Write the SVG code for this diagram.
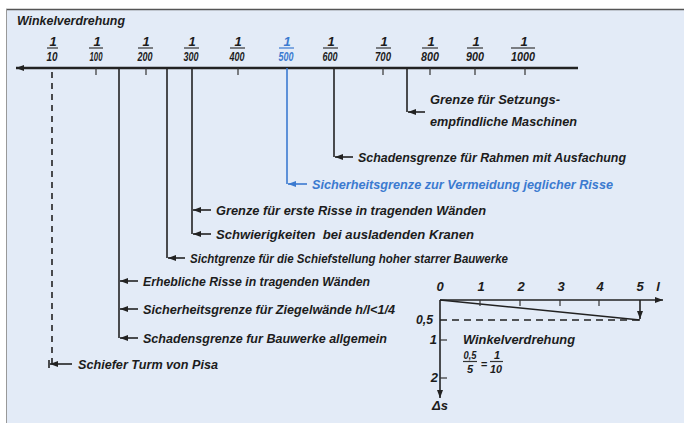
<svg xmlns="http://www.w3.org/2000/svg" width="684" height="423" viewBox="0 0 684 423">
<defs>
<style>
text{font-family:"Liberation Sans","DejaVu Sans",sans-serif;font-style:italic;font-weight:bold;font-size:13px;fill:#1c1c1c}
.b{fill:#3b7ad0}
.ln{stroke:#222;stroke-width:1.6;fill:none}
.bl{stroke:#3b7ad0;stroke-width:1.6;fill:none}
.tk{stroke:#333;stroke-width:1.2}
.num{font-size:13px}
.fr{font-size:11px}
</style>
<marker id="ah" viewBox="0 0 8 6" refX="8" refY="3" markerWidth="8" markerHeight="6" markerUnits="userSpaceOnUse" orient="auto"><path d="M0,0L8,3L0,6z" fill="#222"/></marker>
<marker id="ahb" viewBox="0 0 8 6" refX="8" refY="3" markerWidth="8" markerHeight="6" markerUnits="userSpaceOnUse" orient="auto"><path d="M0,0L8,3L0,6z" fill="#3b7ad0"/></marker>
</defs>
<rect x="0" y="0" width="684" height="423" fill="#ffffff"/>
<rect x="6" y="9" width="678" height="414" fill="#e3ebf7"/>
<line x1="6" y1="9.5" x2="684" y2="9.5" stroke="#555" stroke-width="1.5"/>
<line x1="6.5" y1="9" x2="6.5" y2="423" stroke="#999" stroke-width="1"/>

<text x="17" y="25" textLength="108" lengthAdjust="spacingAndGlyphs">Winkelverdrehung</text>

<g id="axis">
<line x1="578" y1="68" x2="16" y2="68" stroke="#222" stroke-width="2.5" marker-end="url(#ah)"/>
</g>

<g id="ticks">
<g id="t10"><text class="num" x="53" y="46" text-anchor="middle">1</text><line class="tk" x1="47" y1="48" x2="58" y2="48"/><text class="num" x="52" y="61" text-anchor="middle" textLength="11" lengthAdjust="spacingAndGlyphs">10</text></g>
<g id="t100"><text class="num" x="97" y="46" text-anchor="middle">1</text><line class="tk" x1="89" y1="48" x2="103" y2="48"/><line class="tk" x1="96" y1="68" x2="96" y2="75"/><text class="num" x="96" y="61" text-anchor="middle" textLength="13" lengthAdjust="spacingAndGlyphs">100</text></g>
<g id="t200"><text class="num" x="146" y="46" text-anchor="middle">1</text><line class="tk" x1="138" y1="48" x2="153" y2="48"/><line class="tk" x1="146" y1="68" x2="146" y2="75"/><text class="num" x="145" y="61" text-anchor="middle" textLength="15" lengthAdjust="spacingAndGlyphs">200</text></g>
<g id="t300"><text class="num" x="192" y="46" text-anchor="middle">1</text><line class="tk" x1="184" y1="48" x2="199" y2="48"/><text class="num" x="191" y="61" text-anchor="middle" textLength="15" lengthAdjust="spacingAndGlyphs">300</text></g>
<g id="t400"><text class="num" x="238" y="46" text-anchor="middle">1</text><line class="tk" x1="230" y1="48" x2="245" y2="48"/><line class="tk" x1="238" y1="68" x2="238" y2="75"/><text class="num" x="237" y="61" text-anchor="middle" textLength="15" lengthAdjust="spacingAndGlyphs">400</text></g>
<g id="t500"><text class="num b" x="287" y="46" text-anchor="middle">1</text><line x1="279" y1="48" x2="294" y2="48" stroke="#3b7ad0" stroke-width="1.2"/><text class="num b" x="286" y="61" text-anchor="middle" textLength="15" lengthAdjust="spacingAndGlyphs">500</text></g>
<g id="t600"><text class="num" x="331" y="46" text-anchor="middle">1</text><line class="tk" x1="323" y1="48" x2="338" y2="48"/><text class="num" x="330" y="61" text-anchor="middle" textLength="15" lengthAdjust="spacingAndGlyphs">600</text></g>
<g id="t700"><text class="num" x="384" y="46" text-anchor="middle">1</text><line class="tk" x1="376" y1="48" x2="391" y2="48"/><line class="tk" x1="383" y1="68" x2="383" y2="75"/><text class="num" x="383" y="61" text-anchor="middle" textLength="16" lengthAdjust="spacingAndGlyphs">700</text></g>
<g id="t800"><text class="num" x="431" y="46" text-anchor="middle">1</text><line class="tk" x1="422" y1="48" x2="438" y2="48"/><line class="tk" x1="430" y1="68" x2="430" y2="75"/><text class="num" x="430" y="61" text-anchor="middle" textLength="18" lengthAdjust="spacingAndGlyphs">800</text></g>
<g id="t900"><text class="num" x="476" y="46" text-anchor="middle">1</text><line class="tk" x1="467" y1="48" x2="483" y2="48"/><line class="tk" x1="475" y1="68" x2="475" y2="75"/><text class="num" x="475" y="61" text-anchor="middle" textLength="18" lengthAdjust="spacingAndGlyphs">900</text></g>
<g id="t1000"><text class="num" x="524" y="46" text-anchor="middle">1</text><line class="tk" x1="511" y1="48" x2="535" y2="48"/><line class="tk" x1="525" y1="68" x2="525" y2="75"/><text class="num" x="523" y="61" text-anchor="middle" textLength="24" lengthAdjust="spacingAndGlyphs">1000</text></g>
</g>

<g id="connectors">
<line x1="52" y1="72" x2="52" y2="364" stroke="#222" stroke-width="1.6" stroke-dasharray="6 5"/>
<line x1="49" y1="360" x2="49" y2="368" stroke="#222" stroke-width="1.6"/>
<line class="ln" x1="119" y1="68" x2="119" y2="338"/>
<line class="ln" x1="167" y1="68" x2="167" y2="258"/>
<line class="ln" x1="192" y1="68" x2="192" y2="234"/>
<line class="bl" x1="287" y1="68" x2="287" y2="184"/>
<line class="ln" x1="334" y1="68" x2="334" y2="157"/>
<line class="ln" x1="407" y1="68" x2="407" y2="112"/>
<line class="ln" x1="425" y1="112" x2="408" y2="112" marker-end="url(#ah)"/>
<line class="ln" x1="353" y1="157" x2="335" y2="157" marker-end="url(#ah)"/>
<line class="bl" x1="307" y1="184" x2="288" y2="184" marker-end="url(#ahb)"/>
<line class="ln" x1="211" y1="210" x2="193" y2="210" marker-end="url(#ah)"/>
<line class="ln" x1="211" y1="234" x2="193" y2="234" marker-end="url(#ah)"/>
<line class="ln" x1="185" y1="258" x2="168" y2="258" marker-end="url(#ah)"/>
<line class="ln" x1="138" y1="281" x2="120" y2="281" marker-end="url(#ah)"/>
<line class="ln" x1="138" y1="309" x2="120" y2="309" marker-end="url(#ah)"/>
<line class="ln" x1="138" y1="338" x2="120" y2="338" marker-end="url(#ah)"/>
<line class="ln" x1="72" y1="364" x2="50" y2="364" marker-end="url(#ah)"/>
</g>

<g id="n-setzung"><text x="430" y="104" textLength="130" lengthAdjust="spacingAndGlyphs">Grenze für Setzungs-</text><text x="430" y="126" textLength="147" lengthAdjust="spacingAndGlyphs">empfindliche Maschinen</text></g>
<g id="n-rahmen"><text x="358" y="161.5" textLength="268" lengthAdjust="spacingAndGlyphs">Schadensgrenze für Rahmen mit Ausfachung</text></g>
<g id="n-sicher"><text class="b" x="312" y="188.5" textLength="301" lengthAdjust="spacingAndGlyphs">Sicherheitsgrenze zur Vermeidung jeglicher Risse</text></g>
<g id="n-erste"><text x="216" y="214.5" textLength="270" lengthAdjust="spacingAndGlyphs">Grenze für erste Risse in tragenden Wänden</text></g>
<g id="n-kranen"><text x="216" y="238.5" textLength="258" lengthAdjust="spacingAndGlyphs" xml:space="preserve">Schwierigkeiten  bei ausladenden Kranen</text></g>
<g id="n-sicht"><text x="190" y="262.5" textLength="318" lengthAdjust="spacingAndGlyphs">Sichtgrenze für die Schiefstellung hoher starrer Bauwerke</text></g>
<g id="n-erheblich"><text x="143" y="285.5" textLength="227" lengthAdjust="spacingAndGlyphs">Erhebliche Risse in tragenden Wänden</text></g>
<g id="n-ziegel"><text x="143" y="313.5" textLength="252" lengthAdjust="spacingAndGlyphs">Sicherheitsgrenze für Ziegelwände h/l&lt;1/4</text></g>
<g id="n-bauwerke"><text x="143" y="342.5" textLength="244" lengthAdjust="spacingAndGlyphs">Schadensgrenze fur Bauwerke allgemein</text></g>
<g id="n-pisa"><text x="78" y="368.5" textLength="140" lengthAdjust="spacingAndGlyphs">Schiefer Turm von Pisa</text></g>

<g id="inset">
<line class="ln" x1="440" y1="300" x2="663" y2="300" marker-end="url(#ah)"/>
<line class="ln" x1="440" y1="300" x2="440" y2="398" marker-end="url(#ah)"/>
<line class="ln" x1="440" y1="300" x2="640" y2="320"/>
<line x1="440" y1="320" x2="640" y2="320" stroke="#222" stroke-width="1.6" stroke-dasharray="7 5"/>
<line class="ln" x1="640" y1="300" x2="640" y2="319" marker-end="url(#ah)"/>
<line class="tk" x1="480" y1="300" x2="480" y2="306"/>
<line class="tk" x1="520" y1="300" x2="520" y2="306"/>
<line class="tk" x1="560" y1="300" x2="560" y2="306"/>
<line class="tk" x1="599" y1="300" x2="599" y2="306"/>
<line class="tk" x1="440" y1="340" x2="447" y2="340"/>
<line class="tk" x1="440" y1="378" x2="447" y2="378"/>
<text x="440" y="291" text-anchor="middle">0</text>
<text x="481" y="291" text-anchor="middle">1</text>
<text x="521" y="291" text-anchor="middle">2</text>
<text x="561" y="291" text-anchor="middle">3</text>
<text x="600" y="291" text-anchor="middle">4</text>
<text x="640" y="291" text-anchor="middle">5</text>
<text x="658" y="291" text-anchor="middle">l</text>
<text x="433" y="324" text-anchor="end" textLength="17" lengthAdjust="spacingAndGlyphs">0,5</text>
<text x="437" y="344" text-anchor="end">1</text>
<text x="438" y="382" text-anchor="end">2</text>
<text x="432" y="410">Δs</text>
<text x="463" y="344" textLength="112" lengthAdjust="spacingAndGlyphs">Winkelverdrehung</text>
<text class="fr" x="470" y="359" text-anchor="middle" textLength="13" lengthAdjust="spacingAndGlyphs">0,5</text>
<line class="tk" x1="463" y1="361.5" x2="477" y2="361.5"/>
<text class="fr" x="470" y="373" text-anchor="middle">5</text>
<text class="fr" x="484" y="368" text-anchor="middle">=</text>
<text class="fr" x="497" y="359" text-anchor="middle">1</text>
<line class="tk" x1="490" y1="361.5" x2="503" y2="361.5"/>
<text class="fr" x="496" y="373" text-anchor="middle" textLength="12" lengthAdjust="spacingAndGlyphs">10</text>
</g>
</svg>
